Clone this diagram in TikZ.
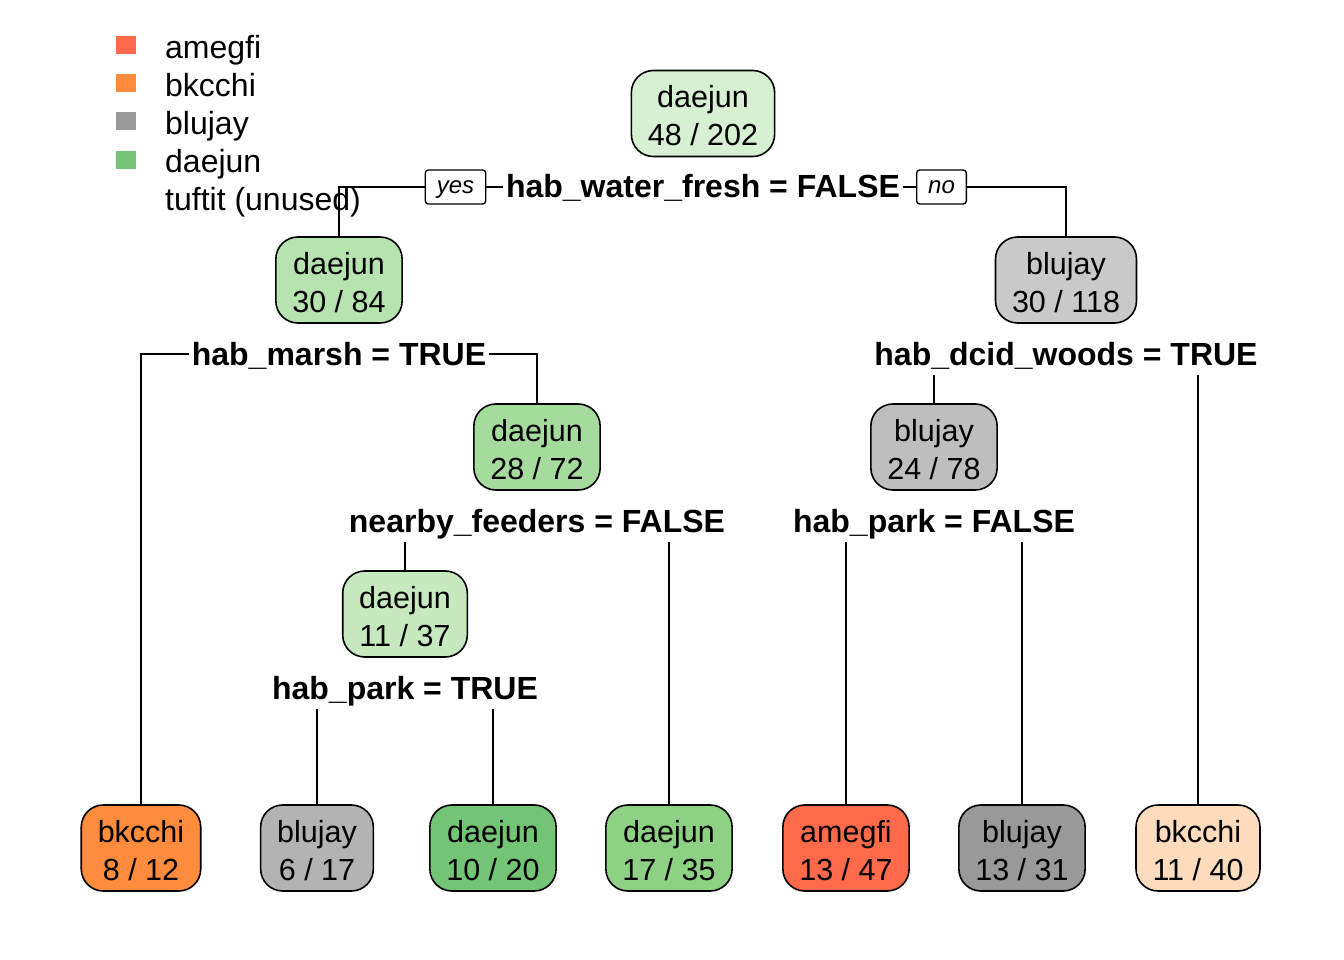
\documentclass[tikz,border=0pt]{standalone}
\usepackage{fontspec}
\setmainfont{Liberation Sans}
\definecolor{cAme}{HTML}{FF6A4B}
\definecolor{cBkc}{HTML}{FF8C3C}
\definecolor{cBkcL}{HTML}{FDDCBD}
\definecolor{cBlu}{HTML}{999999}
\definecolor{cBluA}{HTML}{B3B3B3}
\definecolor{cBluB}{HTML}{C9C9C9}
\definecolor{cBluC}{HTML}{BEBEBE}
\definecolor{cDae}{HTML}{74C476}
\definecolor{cDaeA}{HTML}{8FD184}
\definecolor{cDaeB}{HTML}{A6DB9E}
\definecolor{cDaeC}{HTML}{B7E3B0}
\definecolor{cDaeD}{HTML}{C7E9C0}
\definecolor{cDaeE}{HTML}{D7EFD2}
\newcommand\nodetxt[2]{\rule{0pt}{37pt}#1\\#2\rule[-11pt]{0pt}{11pt}}
\begin{document}
\begin{tikzpicture}[x=1pt,y=-1pt,
  tnode/.style={draw, line width=1.6pt, rounded corners=22pt, inner xsep=16.5pt, inner ysep=0pt, align=center, font=\fontsize{30.5}{38}\selectfont},
  splitlbl/.style={font=\bfseries\fontsize{32}{38}\selectfont, inner xsep=3pt, inner ysep=0pt, text height=32pt, text depth=10pt},
  yn/.style={draw, line width=1.3pt, rounded corners=3pt, font=\itshape\fontsize{24}{28}\selectfont, inner xsep=11.5pt, inner ysep=0pt, text height=20pt, text depth=6pt, minimum height=34pt},
  legtxt/.style={anchor=base west, inner sep=0pt, font=\fontsize{32}{38}\selectfont},
  legsq/.style={inner sep=0pt, minimum width=20pt, minimum height=18pt},
  conn/.style={line width=2pt}]
\useasboundingbox[fill=white] (0,0) rectangle (1344,960);
% legend
\node[legsq, fill=cAme] (sq1) at (125.5,45) {};
\node[legsq, fill=cBkc] (sq2) at (125.5,83) {};
\node[legsq, fill=cBlu] (sq3) at (125.5,121.5) {};
\node[legsq, fill=cDae] (sq4) at (125.5,160) {};
\node[legtxt] (lg1) at (165,58.5) {amegfi};
\node[legtxt] (lg2) at (165,96.5) {bkcchi};
\node[legtxt] (lg3) at (165,134.5) {blujay};
\node[legtxt] (lg4) at (165,173) {daejun};
\node[legtxt] (lg5) at (165,211) {tuftit (unused)};
% inner nodes
\node[tnode, fill=cDaeE] (n1) at (703,113.5) {\nodetxt{daejun}{48 / 202}};
\node[tnode, fill=cDaeC] (n2) at (339,280) {\nodetxt{daejun}{30 / 84}};
\node[tnode, fill=cBluB] (n3) at (1066,280) {\nodetxt{blujay}{30 / 118}};
\node[tnode, fill=cDaeB] (n4) at (537,447) {\nodetxt{daejun}{28 / 72}};
\node[tnode, fill=cBluC] (n5) at (934,447) {\nodetxt{blujay}{24 / 78}};
\node[tnode, fill=cDaeD] (n6) at (405,614) {\nodetxt{daejun}{11 / 37}};
% leaves
\node[tnode, fill=cBkc] (lA) at (141,848) {\nodetxt{bkcchi}{8 / 12}};
\node[tnode, fill=cBluA] (lB) at (317,848) {\nodetxt{blujay}{6 / 17}};
\node[tnode, fill=cDae] (lC) at (493,848) {\nodetxt{daejun}{10 / 20}};
\node[tnode, fill=cDaeA] (lD) at (669,848) {\nodetxt{daejun}{17 / 35}};
\node[tnode, fill=cAme] (lE) at (846,848) {\nodetxt{amegfi}{13 / 47}};
\node[tnode, fill=cBlu] (lF) at (1022,848) {\nodetxt{blujay}{13 / 31}};
\node[tnode, fill=cBkcL] (lG) at (1198,848) {\nodetxt{bkcchi}{11 / 40}};
% split labels
\node[splitlbl] (L1) at (703,187) {hab\_water\_fresh = FALSE};
\node[splitlbl] (L2) at (339,354) {hab\_marsh = TRUE};
\node[splitlbl] (L3) at (1066,354) {hab\_dcid\_woods = TRUE};
\node[splitlbl] (L4) at (537,521) {nearby\_feeders = FALSE};
\node[splitlbl] (L5) at (934,521) {hab\_park = FALSE};
\node[splitlbl] (L6) at (405,688) {hab\_park = TRUE};
\node[yn] (yes) at (455.5,187) {yes};
\node[yn] (no) at (941.5,187) {no};
% connectors
\draw[conn] (yes.east) -- (L1.west);
\draw[conn] (L1.east) -- (no.west);
\draw[conn] (yes.west) -| (n2.north);
\draw[conn] (no.east) -| (n3.north);
\draw[conn] (L2.west) -| (lA.north);
\draw[conn] (L2.east) -| (n4.north);
\draw[conn] (L3.south -| n5.north) -- (n5.north);
\draw[conn] (L3.south -| lG.north) -- (lG.north);
\draw[conn] (L4.south -| n6.north) -- (n6.north);
\draw[conn] (L4.south -| lD.north) -- (lD.north);
\draw[conn] (L5.south -| lE.north) -- (lE.north);
\draw[conn] (L5.south -| lF.north) -- (lF.north);
\draw[conn] (L6.south -| lB.north) -- (lB.north);
\draw[conn] (L6.south -| lC.north) -- (lC.north);
\end{tikzpicture}
\end{document}
